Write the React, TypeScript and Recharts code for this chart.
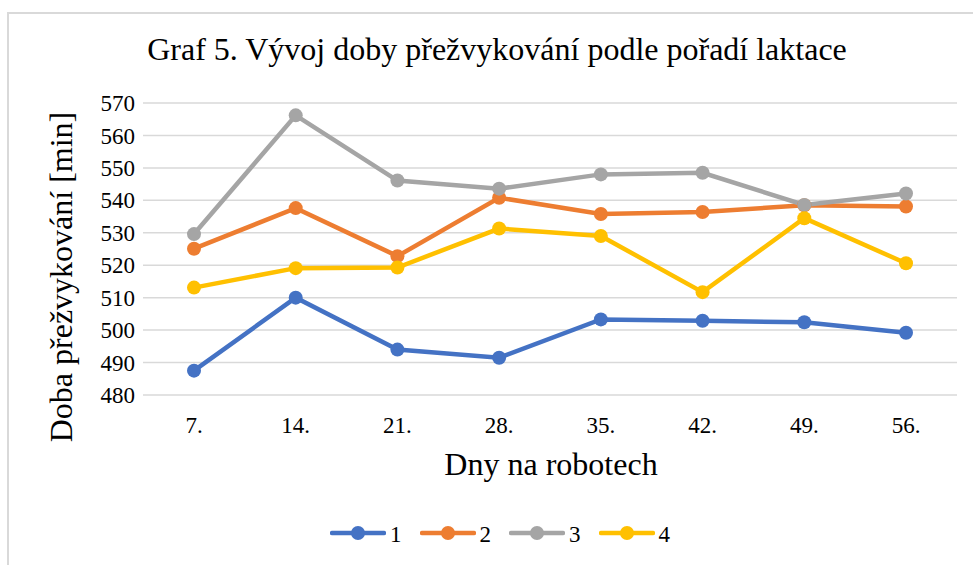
import React from "react";
import { LineChart, Line, XAxis, YAxis, CartesianGrid, Legend } from "recharts";

const days = ["7.", "14.", "21.", "28.", "35.", "42.", "49.", "56."];
const lact1 = [487.5, 510.0, 494.0, 491.5, 503.3, 502.9, 502.4, 499.2];
const lact2 = [525.1, 537.6, 522.8, 540.8, 535.8, 536.4, 538.5, 538.1];
const lact3 = [529.6, 566.2, 546.1, 543.6, 548.0, 548.5, 538.6, 542.1];
const lact4 = [513.1, 519.1, 519.3, 531.3, 529.0, 511.7, 534.5, 520.6];
const yTicks = [480, 490, 500, 510, 520, 530, 540, 550, 560, 570];

const seriesNames = ["1", "2", "3", "4"];
const colors = ["#4472C4", "#ED7D31", "#A5A5A5", "#FFC000"];

const data = days.map((d, i) => ({
  day: d,
  s1: lact1[i],
  s2: lact2[i],
  s3: lact3[i],
  s4: lact4[i],
}));

const FONT = "Liberation Serif";

function LegendContent() {
  return (
    <div
      style={{
        display: "flex",
        justifyContent: "center",
        alignItems: "center",
        height: 40,
        paddingLeft: 27,
        fontFamily: FONT,
        fontSize: 23,
        color: "#000",
      }}
    >
      {seriesNames.map((name, i) => (
        <div key={name} style={{ display: "flex", alignItems: "center", marginRight: i < 3 ? 18 : 0 }}>
          <svg width={56} height={16}>
            <line x1={2} y1={8} x2={54} y2={8} stroke={colors[i]} strokeWidth={4.5} strokeLinecap="round" />
            <circle cx={28} cy={8} r={7} fill={colors[i]} />
          </svg>
          <span style={{ marginLeft: 4, lineHeight: "23px", position: "relative", top: 1, fontFamily: FONT }}>
            {name}
          </span>
        </div>
      ))}
    </div>
  );
}

export default function App() {
  return (
    <div
      style={{
        position: "absolute",
        left: 0,
        top: 0,
        width: 973,
        height: 565,
        overflow: "hidden",
        background: "#fff",
        fontFamily: FONT,
      }}
    >
      <div
        style={{
          position: "absolute",
          left: 7,
          top: 12,
          width: 1100,
          height: 700,
          border: "2px solid #D9D9D9",
        }}
      />
      <div style={{ position: "absolute", left: 0, top: 0, fontFamily: FONT }}>
        <LineChart
          width={973}
          height={565}
          data={data}
          margin={{ top: 103, right: 16, bottom: 100, left: 83 }}
          style={{ fontFamily: FONT }}
        >
          <CartesianGrid stroke="#D9D9D9" strokeWidth={1.5} vertical={false} />
          <XAxis
            dataKey="day"
            axisLine={false}
            tickLine={false}
            height={30}
            padding={{ left: 51, right: 51 }}
            tickMargin={16}
            tick={{ fill: "#000", fontSize: 23, fontFamily: FONT, style: { fontFamily: FONT } }}
            interval={0}
          />
          <YAxis
            domain={[480, 570]}
            ticks={yTicks}
            axisLine={false}
            tickLine={false}
            width={60}
            tick={{ fill: "#000", fontSize: 23, fontFamily: FONT, style: { fontFamily: FONT } }}
            interval={0}
          />
          <Legend
            verticalAlign="bottom"
            content={<LegendContent />}
            wrapperStyle={{ top: 513, left: 0, width: 973, fontFamily: FONT }}
          />
          {["s1", "s2", "s3", "s4"].map((k, i) => (
            <Line
              key={k}
              dataKey={k}
              name={seriesNames[i]}
              stroke={colors[i]}
              strokeWidth={4.5}
              dot={{ r: 7, fill: colors[i], stroke: colors[i], strokeWidth: 0 }}
              activeDot={false}
              isAnimationActive={false}
            />
          ))}
        </LineChart>
      </div>
      <svg
        width={973}
        height={565}
        style={{ position: "absolute", left: 0, top: 0, pointerEvents: "none" }}
      >
        <text x={497} y={60} textAnchor="middle" fontFamily={FONT} fontSize={32} fill="#000">
          Graf 5. Vývoj doby přežvykování podle pořadí laktace
        </text>
        <text x={551} y={475} textAnchor="middle" fontFamily={FONT} fontSize={32} fill="#000">
          Dny na robotech
        </text>
        <text
          x={72}
          y={277}
          textAnchor="middle"
          fontFamily={FONT}
          fontSize={32}
          fill="#000"
          transform="rotate(-90 72 277)"
        >
          Doba přežvykování [min]
        </text>
      </svg>
    </div>
  );
}
